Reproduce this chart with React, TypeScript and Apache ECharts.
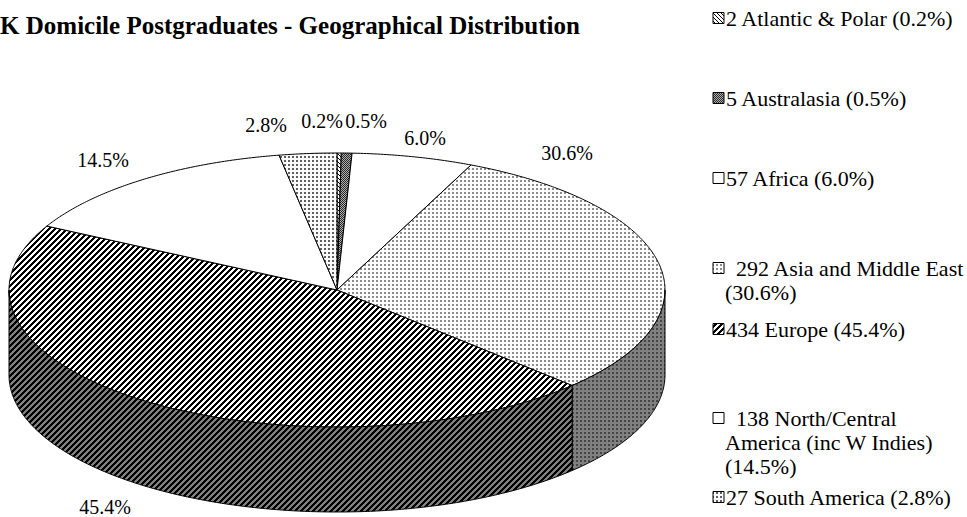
import React, { useEffect, useRef } from "react";
import * as echarts from "echarts";

// ---- data ----
const TITLE = "UK Domicile Postgraduates - Geographical Distribution";
const REGIONS = [
  "Atlantic & Polar",
  "Australasia",
  "Africa",
  "Asia and Middle East",
  "Europe",
  "North/Central America (inc W Indies)",
  "South America",
];
const COUNTS = [2, 5, 57, 292, 434, 138, 27];

// ---- layout ----
const W = 967;
const H = 517;
const CX = 337;
const CY = 290;
const RX = 328;
const RY = 137;
const DEPTH = 85;
const LABEL_POS = [
  [322, 121],
  [366, 121],
  [425, 138],
  [567, 153],
  [105, 507],
  [103, 160],
  [266, 125],
];
const LEGEND_ICON_X = 713;
const LEGEND_Y = [18, 98, 178, 268, 329, 418, 497];
const LINE_H = 24;
const FONT_FAMILY = "'Liberation Serif', 'Times New Roman', serif";
const LABEL_SIZE = 20;
const LEGEND_SIZE = 22;
const TITLE_SIZE = 25;

type Px = (x: number, y: number) => number; // gray level 0..255

const TILE_DEFS: { size: number; fn: Px }[] = [
  { size: 4, fn: (x, y) => ((x - y + 8) % 4 === 0 ? 0 : 255) },
  { size: 2, fn: (x, y) => ((x + y) % 2 === 0 ? 40 : 175) },
  { size: 2, fn: () => 255 },
  { size: 4, fn: (x, y) => (x < 2 && y < 2 ? 140 : 255) },
  { size: 6, fn: (x, y) => ((x + y) % 6 < 3 ? 0 : 255) },
  { size: 2, fn: () => 255 },
  { size: 4, fn: (x, y) => (x < 2 && y < 2 ? 95 : 250) },
];

function makePattern(size: number, fn: Px, factor: number) {
  const c = document.createElement("canvas");
  c.width = size;
  c.height = size;
  const ctx = c.getContext("2d")!;
  const img = ctx.createImageData(size, size);
  for (let y = 0; y < size; y++) {
    for (let x = 0; x < size; x++) {
      const v = Math.round(fn(x, y) * factor);
      const k = (y * size + x) * 4;
      img.data[k] = v;
      img.data[k + 1] = v;
      img.data[k + 2] = v;
      img.data[k + 3] = 255;
    }
  }
  ctx.putImageData(img, 0, 0);
  return { image: c, repeat: "repeat", imageWidth: size, imageHeight: size } as any;
}

function wrapText(text: string, font: string, maxW: number): string[] {
  const ctx = document.createElement("canvas").getContext("2d")!;
  ctx.font = font;
  const words = text.split(" ");
  const lines: string[] = [];
  let cur = "";
  for (const w of words) {
    const t = cur ? cur + " " + w : w;
    if (cur && ctx.measureText(t).width > maxW) {
      lines.push(cur);
      cur = w;
    } else cur = t;
  }
  if (cur) lines.push(cur);
  return lines;
}

export default function App() {
  const ref = useRef<HTMLDivElement>(null);
  useEffect(() => {
    if (!ref.current) return;
    const chart = echarts.init(ref.current, null, { renderer: "svg" });
    const total = COUNTS.reduce((a, b) => a + b, 0);
    const pcts = COUNTS.map((c) => ((c / total) * 100).toFixed(1) + "%");
    let acc = 0;
    const data = COUNTS.map((c) => {
      const s = acc / total;
      acc += c;
      return [s, acc / total];
    });
    const topFills = TILE_DEFS.map((d) => makePattern(d.size, d.fn, 1));
    const sideFills = TILE_DEFS.map((d) => makePattern(d.size, d.fn, 0.5));
    const labelFont = `${LABEL_SIZE}px ${FONT_FAMILY}`;
    const legendFont = `${LEGEND_SIZE}px ${FONT_FAMILY}`;

    const pt = (t: number, d: number) => [CX + RX * Math.sin(t), CY - RY * Math.cos(t) + d];
    const arc = (s: number, e: number, d: number) => {
      const n = Math.max(2, Math.ceil((e - s) / (Math.PI / 360)));
      const out: number[][] = [];
      for (let k = 0; k <= n; k++) out.push(pt(s + ((e - s) * k) / n, d));
      return out;
    };

    const graphics: any[] = [
      {
        type: "text",
        x: -18,
        y: 25,
        style: {
          text: TITLE,
          font: `bold ${TITLE_SIZE}px ${FONT_FAMILY}`,
          fill: "#000",
          align: "left",
          verticalAlign: "middle",
        },
      },
    ];
    const maxW = 10.7 * LEGEND_SIZE;
    COUNTS.forEach((c, i) => {
      const txt = `${c} ${REGIONS[i]} (${pcts[i]})`;
      const lines = wrapText(txt, legendFont, maxW);
      const y0 = LEGEND_Y[i];
      graphics.push({
        type: "rect",
        shape: { x: LEGEND_ICON_X, y: y0 - 5.5, width: 11, height: 11 },
        style: { fill: topFills[i], stroke: "#000", lineWidth: 1 },
      });
      lines.forEach((ln, j) => {
        const x = lines.length > 1 ? (j === 0 ? 736 : 725) : 726;
        graphics.push({
          type: "text",
          x,
          y: y0 + j * LINE_H,
          style: { text: ln, font: legendFont, fill: "#000", align: "left", verticalAlign: "middle" },
        });
      });
    });

    chart.setOption({
      animation: false,
      backgroundColor: "#fff",
      graphic: graphics,
      series: [
        {
          type: "custom",
          coordinateSystem: "none",
          silent: true,
          data,
          renderItem: (params: any, api: any) => {
            const i = params.dataIndex;
            const a0 = api.value(0) * Math.PI * 2;
            const a1 = api.value(1) * Math.PI * 2;
            const children: any[] = [];
            children.push({
              type: "polygon",
              shape: { points: [[CX, CY], ...arc(a0, a1, 0)] },
              style: { fill: topFills[i], stroke: "#000", lineWidth: 1, lineJoin: "round" },
            });
            const s = Math.max(a0, Math.PI / 2);
            const e = Math.min(a1, (Math.PI * 3) / 2);
            if (e > s) {
              children.push({
                type: "polygon",
                shape: { points: [...arc(s, e, 0), ...arc(s, e, DEPTH).reverse()] },
                style: { fill: sideFills[i], stroke: "#000", lineWidth: 1, lineJoin: "round" },
              });
            }
            children.push({
              type: "text",
              x: LABEL_POS[i][0],
              y: LABEL_POS[i][1],
              style: {
                text: pcts[i],
                font: labelFont,
                fill: "#000",
                align: "center",
                verticalAlign: "middle",
              },
            });
            return { type: "group", children };
          },
        },
      ],
    });
    return () => chart.dispose();
  }, []);
  return (
    <div
      ref={ref}
      style={{ position: "fixed", left: 0, top: 0, width: W, height: H, background: "#fff" }}
    />
  );
}
